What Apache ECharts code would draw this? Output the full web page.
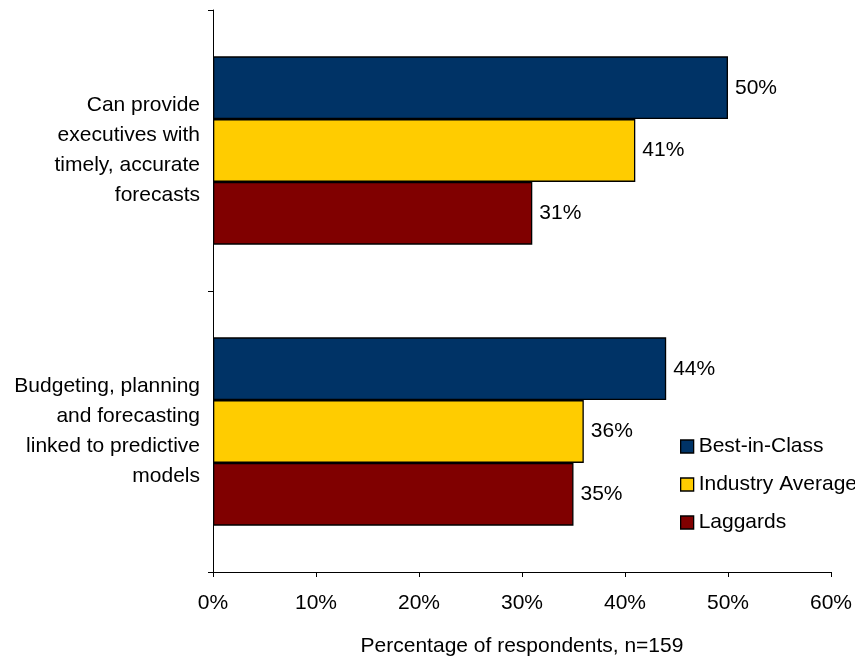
<!DOCTYPE html>
<html><head><meta charset="utf-8">
<script src="https://cdn.jsdelivr.net/npm/echarts@6/dist/echarts.min.js"></script>
<style>html,body{margin:0;padding:0;background:#fff}#c{width:855px;height:662px}</style>
</head><body><div id="c"></div>
<script>
const categories = ["Budgeting, planning\nand forecasting\nlinked to predictive\nmodels", "Can provide\nexecutives with\ntimely, accurate\nforecasts"];
const seriesNames = ["Best-in-Class", "Industry Average", "Laggards"];
const bestInClass = [44, 50];
const industryAverage = [36, 41];
const laggards = [35, 31];
const xTicks = [0, 10, 20, 30, 40, 50, 60];

const font = 'Liberation Sans, Arial, sans-serif';
const FS = 21;
const colors = {"Best-in-Class": "#003366", "Industry Average": "#FFCC00", "Laggards": "#800000"};
const mk = (name, data) => ({
  name, type: 'bar', data, barGap: '0%', barCategoryGap: '33%',
  itemStyle: {color: colors[name], borderColor: '#000', borderWidth: 1.3},
  label: {show: true, position: 'right', distance: 7, formatter: p => p.value + '%', color: '#000', fontSize: FS, fontFamily: font}
});
const chart = echarts.init(document.getElementById('c'), null, {renderer: 'canvas'});
chart.setOption({
  animation: false,
  grid: {left: 213, right: 23, top: 10, bottom: 86},
  legend: {
    data: seriesNames, orient: 'vertical', left: 675, top: 431, itemGap: 17,
    itemWidth: 13, itemHeight: 13, icon: 'rect', itemStyle: {borderColor: '#000', borderWidth: 1.3},
    textStyle: {fontSize: FS, fontFamily: font, color: '#000'}
  },
  xAxis: {
    type: 'value', min: 0, max: 60, interval: 10,
    axisLine: {show: true, lineStyle: {color: '#000'}},
    axisTick: {show: true, length: 5, lineStyle: {color: '#000'}},
    splitLine: {show: false},
    axisLabel: {formatter: v => v + '%', fontSize: FS, fontFamily: font, color: '#000', margin: 21},
    name: 'Percentage of respondents, n=159', nameLocation: 'middle', nameGap: 64,
    nameTextStyle: {fontSize: FS, fontFamily: font, color: '#000'}
  },
  yAxis: {
    type: 'category', data: categories,
    axisLine: {lineStyle: {color: '#000'}},
    axisTick: {show: true, length: 5, lineStyle: {color: '#000'}},
    axisLabel: {fontSize: FS, fontFamily: font, color: '#000', lineHeight: 30, margin: 13, align: 'right'}
  },
  series: [mk("Best-in-Class", bestInClass), mk("Industry Average", industryAverage), mk("Laggards", laggards)]
});
</script></body></html>
